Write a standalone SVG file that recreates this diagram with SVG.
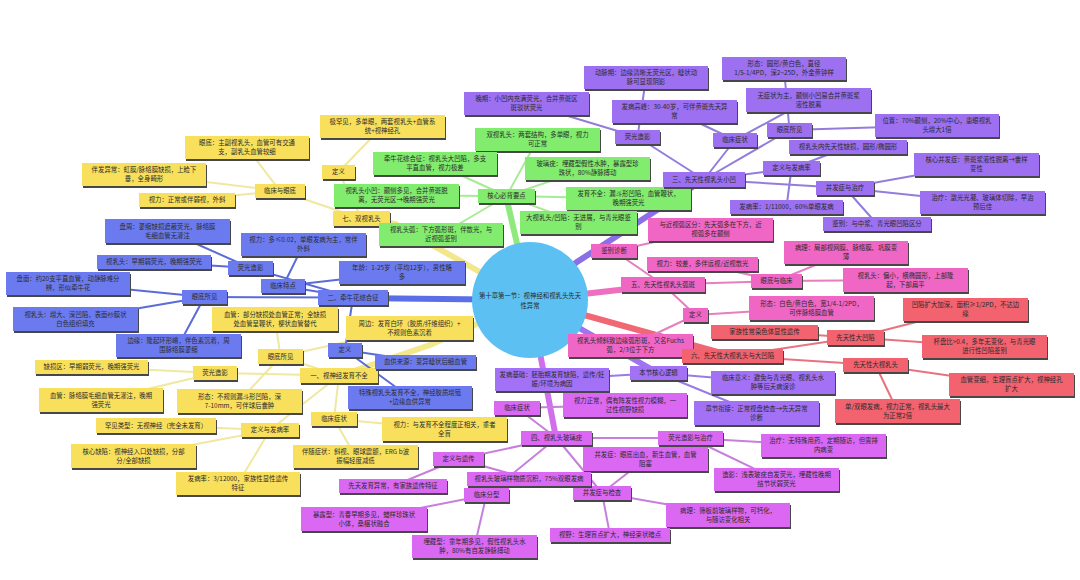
<svg xmlns="http://www.w3.org/2000/svg" width="1080" height="580" viewBox="0 0 1080 580">
<style>
text{font-family:"Noto Sans CJK SC","Noto Sans",sans-serif;font-size:6.4px;fill:#2b2b2b;text-anchor:middle}
.s{fill:#474747}
.y{fill:#f9e05c}.b{fill:#6b7bef}.g{fill:#82ec6e}.p{fill:#9c70f0}.k{fill:#f066c4}.r{fill:#f2626f}.l{fill:#a271f5}.m{fill:#da68f3}
.c line,.c path{fill:none;stroke-linecap:round}
.ty{stroke:#f0e8a0;stroke-width:2}.tb{stroke:#5b6bd8;stroke-width:2}.tg{stroke:#a6ec94;stroke-width:2}.tp{stroke:#937ddc;stroke-width:2}
.tk{stroke:#e57fc0;stroke-width:2}.tr{stroke:#e8737f;stroke-width:2}.tl{stroke:#9a7ae6;stroke-width:2}.tm{stroke:#c77fdc;stroke-width:2}
.My{stroke:#f3e78e;stroke-width:6}.Mb{stroke:#5a6fe6;stroke-width:6}.Mg{stroke:#8eea7c;stroke-width:6}.Mp{stroke:#8b6fe6;stroke-width:6}
.Mk{stroke:#ee6fbf;stroke-width:6}.Mr{stroke:#ef6874;stroke-width:6}.Ml{stroke:#9f74f0;stroke-width:6}.Mm{stroke:#d06eec;stroke-width:6}
</style>
<rect width="1080" height="580" fill="#ffffff"/>
<g id="connectors" class="c">
<path class="My" d="M339 376 L430 345 L530 300"/>
<path class="My" d="M362 219 L395 224 L480 272 L530 300"/>
<path class="Mb" d="M353 298 L530 300"/>
<path class="Mg" d="M506 196 L530 300"/>
<path class="Mp" d="M530 300 L577 262 L700 182"/>
<path class="Mk" d="M530 300 L663 285"/>
<path class="Mr" d="M530 300 L732 356"/>
<path class="Ml" d="M530 300 L658 373"/>
<path class="Mm" d="M530 300 L556 438"/>
<line class="ty" x1="339" y1="375.5" x2="280.5" y2="356.5"/>
<line class="ty" x1="339" y1="375.5" x2="215" y2="373"/>
<line class="ty" x1="339" y1="375.5" x2="270" y2="430"/>
<line class="ty" x1="339" y1="375.5" x2="334" y2="419"/>
<line class="ty" x1="280.5" y1="356.5" x2="275" y2="319"/>
<line class="ty" x1="280.5" y1="356.5" x2="239.5" y2="401"/>
<line class="ty" x1="280.5" y1="356.5" x2="409.5" y2="328"/>
<line class="ty" x1="215" y1="373" x2="91.5" y2="367"/>
<line class="ty" x1="215" y1="373" x2="101" y2="400"/>
<line class="ty" x1="270" y1="430" x2="156" y2="425.5"/>
<line class="ty" x1="270" y1="430" x2="133.5" y2="456"/>
<line class="ty" x1="270" y1="430" x2="238" y2="483.5"/>
<line class="ty" x1="334" y1="419" x2="444.5" y2="429"/>
<line class="ty" x1="334" y1="419" x2="355.5" y2="456.5"/>
<line class="ty" x1="361.5" y1="218.5" x2="338.5" y2="172"/>
<line class="ty" x1="361.5" y1="218.5" x2="280" y2="191"/>
<line class="ty" x1="338.5" y1="172" x2="382.5" y2="126.5"/>
<line class="ty" x1="280" y1="191" x2="247" y2="147.5"/>
<line class="ty" x1="280" y1="191" x2="144" y2="174.5"/>
<line class="ty" x1="280" y1="191" x2="187" y2="200"/>
<line class="tb" x1="353" y1="297.5" x2="283" y2="286"/>
<line class="tb" x1="353" y1="297.5" x2="250.5" y2="268"/>
<line class="tb" x1="353" y1="297.5" x2="204.5" y2="297"/>
<line class="tb" x1="353" y1="297.5" x2="345" y2="350"/>
<line class="tb" x1="283" y1="286" x2="303.5" y2="244.5"/>
<line class="tb" x1="283" y1="286" x2="402" y2="272.5"/>
<line class="tb" x1="250.5" y1="268" x2="167.5" y2="231"/>
<line class="tb" x1="250.5" y1="268" x2="154" y2="262"/>
<line class="tb" x1="204.5" y1="297" x2="68" y2="283.5"/>
<line class="tb" x1="204.5" y1="297" x2="75.5" y2="319"/>
<line class="tb" x1="204.5" y1="297" x2="178.5" y2="345.5"/>
<line class="tb" x1="345" y1="350" x2="425.5" y2="362"/>
<line class="tb" x1="345" y1="350" x2="410" y2="397.5"/>
<line class="tg" x1="506.5" y1="196" x2="537.5" y2="139.5"/>
<line class="tg" x1="506.5" y1="196" x2="435" y2="163.5"/>
<line class="tg" x1="506.5" y1="196" x2="396.5" y2="195.5"/>
<line class="tg" x1="506.5" y1="196" x2="441" y2="234.5"/>
<line class="tg" x1="506.5" y1="196" x2="587.5" y2="168.5"/>
<line class="tg" x1="506.5" y1="196" x2="628.5" y2="198.5"/>
<line class="tg" x1="506.5" y1="196" x2="578.5" y2="222.5"/>
<line class="tp" x1="704" y1="179.5" x2="637.5" y2="137"/>
<line class="tp" x1="704" y1="179.5" x2="735" y2="140"/>
<line class="tp" x1="704" y1="179.5" x2="789.5" y2="130"/>
<line class="tp" x1="704" y1="179.5" x2="791.5" y2="168.5"/>
<line class="tp" x1="704" y1="179.5" x2="845" y2="188"/>
<line class="tp" x1="637.5" y1="137" x2="526.5" y2="103.5"/>
<line class="tp" x1="637.5" y1="137" x2="646" y2="77.5"/>
<line class="tp" x1="735" y1="140" x2="674.5" y2="111.5"/>
<line class="tp" x1="735" y1="140" x2="808.5" y2="100"/>
<line class="tp" x1="789.5" y1="130" x2="784" y2="68.5"/>
<line class="tp" x1="789.5" y1="130" x2="937" y2="125.5"/>
<line class="tp" x1="791.5" y1="168.5" x2="848" y2="147"/>
<line class="tp" x1="791.5" y1="168.5" x2="786.5" y2="207"/>
<line class="tp" x1="845" y1="188" x2="976.5" y2="164.5"/>
<line class="tp" x1="845" y1="188" x2="982.5" y2="202.5"/>
<line class="tp" x1="845" y1="188" x2="877" y2="224"/>
<line class="tk" x1="663" y1="284.5" x2="614" y2="251"/>
<line class="tk" x1="663" y1="284.5" x2="776.5" y2="281"/>
<line class="tk" x1="663" y1="284.5" x2="695.5" y2="315"/>
<line class="tk" x1="614" y1="251" x2="710.5" y2="229.5"/>
<line class="tk" x1="776.5" y1="281" x2="702.5" y2="264"/>
<line class="tk" x1="776.5" y1="281" x2="846" y2="252.5"/>
<line class="tk" x1="776.5" y1="281" x2="905.5" y2="280"/>
<line class="tk" x1="695.5" y1="315" x2="811.5" y2="308"/>
<line class="tk" x1="695.5" y1="315" x2="630.5" y2="345.5"/>
<line class="tr" x1="732.5" y1="356" x2="855.5" y2="337.5"/>
<line class="tr" x1="732.5" y1="356" x2="875.5" y2="365"/>
<line class="tr" x1="855.5" y1="337.5" x2="764.5" y2="332"/>
<line class="tr" x1="855.5" y1="337.5" x2="965.5" y2="309.5"/>
<line class="tr" x1="855.5" y1="337.5" x2="984.5" y2="346.5"/>
<line class="tr" x1="875.5" y1="365" x2="1011.5" y2="384.5"/>
<line class="tr" x1="875.5" y1="365" x2="897.5" y2="411"/>
<line class="tl" x1="658.5" y1="373" x2="552" y2="379.5"/>
<line class="tl" x1="658.5" y1="373" x2="773" y2="382.5"/>
<line class="tl" x1="658.5" y1="373" x2="756.5" y2="413"/>
<line class="tm" x1="556.5" y1="438" x2="517" y2="408"/>
<line class="tm" x1="556.5" y1="438" x2="690.5" y2="438"/>
<line class="tm" x1="556.5" y1="438" x2="602" y2="493"/>
<line class="tm" x1="556.5" y1="438" x2="458.5" y2="459"/>
<line class="tm" x1="556.5" y1="438" x2="486.5" y2="495"/>
<line class="tm" x1="517" y1="408" x2="625" y2="405"/>
<line class="tm" x1="690.5" y1="438" x2="823.5" y2="445.5"/>
<line class="tm" x1="690.5" y1="438" x2="776.5" y2="479.5"/>
<line class="tm" x1="602" y1="493" x2="645.5" y2="459"/>
<line class="tm" x1="602" y1="493" x2="728" y2="515"/>
<line class="tm" x1="602" y1="493" x2="610" y2="535"/>
<line class="tm" x1="458.5" y1="459" x2="393" y2="486"/>
<line class="tm" x1="458.5" y1="459" x2="529" y2="479"/>
<line class="tm" x1="486.5" y1="495" x2="364" y2="519"/>
<line class="tm" x1="486.5" y1="495" x2="474.5" y2="546.5"/>
</g>
<g id="center"><circle cx="530" cy="300" r="58" fill="#5cc1f2"/><text x="530" y="298.3">第十章第一节：视神经和视乳头先天</text><text x="530" y="308.3">性异常</text></g>
<g id="y1"><rect class="s" x="301" y="370" width="78" height="15"/><rect class="y" x="300" y="368" width="78" height="15"/><text x="339" y="377.8">一、视神经发育不全</text></g>
<g id="y2"><rect class="s" x="259" y="351" width="45" height="15"/><rect class="y" x="258" y="349" width="45" height="15"/><text x="280.5" y="358.8">眼底所见</text></g>
<g id="y3"><rect class="s" x="213" y="309" width="126" height="24"/><rect class="y" x="212" y="307" width="126" height="24"/><text x="275" y="316.8">血管：部分缺损处血管正常；全缺损</text><text x="275" y="325.8">处血管呈鞭状，梗状血管替代</text></g>
<g id="y4"><rect class="s" x="178" y="391" width="125" height="24"/><rect class="y" x="177" y="389" width="125" height="24"/><text x="239.5" y="398.8">形态：不规则漏斗形凹陷，深</text><text x="239.5" y="407.8">7-10mm，可伴球后囊肿</text></g>
<g id="y5"><rect class="s" x="194" y="368" width="44" height="14"/><rect class="y" x="193" y="366" width="44" height="14"/><text x="215" y="375.3">荧光造影</text></g>
<g id="y6"><rect class="s" x="36" y="362" width="113" height="14"/><rect class="y" x="35" y="360" width="113" height="14"/><text x="91.5" y="369.3">缺损区：早期弱荧光，晚期强荧光</text></g>
<g id="y7"><rect class="s" x="40" y="390" width="124" height="24"/><rect class="y" x="39" y="388" width="124" height="24"/><text x="101" y="397.8">血管：脉络膜毛细血管无灌注，晚期</text><text x="101" y="406.8">强荧光</text></g>
<g id="y8"><rect class="s" x="242" y="425" width="58" height="14"/><rect class="y" x="241" y="423" width="58" height="14"/><text x="270" y="432.3">定义与发病率</text></g>
<g id="y9"><rect class="s" x="97" y="420" width="120" height="15"/><rect class="y" x="96" y="418" width="120" height="15"/><text x="156" y="427.8">罕见类型：无视神经（完全未发育）</text></g>
<g id="y10"><rect class="s" x="72" y="446" width="125" height="24"/><rect class="y" x="71" y="444" width="125" height="24"/><text x="133.5" y="453.8">核心缺陷：视神经入口处缺损，分部</text><text x="133.5" y="462.8">分/全部缺损</text></g>
<g id="y11"><rect class="s" x="177" y="474" width="124" height="23"/><rect class="y" x="176" y="472" width="124" height="23"/><text x="238" y="481.3">发病率：3/12000，家族性显性遗传</text><text x="238" y="490.3">特征</text></g>
<g id="y12"><rect class="s" x="312" y="414" width="46" height="14"/><rect class="y" x="311" y="412" width="46" height="14"/><text x="334" y="421.3">临床症状</text></g>
<g id="y13"><rect class="s" x="383" y="419" width="125" height="24"/><rect class="y" x="382" y="417" width="125" height="24"/><text x="444.5" y="426.8">视力：与发育不全程度正相关，重者</text><text x="444.5" y="435.8">全盲</text></g>
<g id="y14"><rect class="s" x="294" y="447" width="125" height="23"/><rect class="y" x="293" y="445" width="125" height="23"/><text x="355.5" y="454.3">伴随症状：斜视、眼球震颤，ERG b波</text><text x="355.5" y="463.3">振幅轻度减低</text></g>
<g id="y15"><rect class="s" x="347" y="318" width="127" height="24"/><rect class="y" x="346" y="316" width="127" height="24"/><text x="409.5" y="325.8">周边：发育白环（胶质/纤维组织）+</text><text x="409.5" y="334.8">不规则色素沉着</text></g>
<g id="y16"><rect class="s" x="334" y="213" width="57" height="15"/><rect class="y" x="333" y="211" width="57" height="15"/><text x="361.5" y="220.8">七、双视乳头</text></g>
<g id="y17"><rect class="s" x="323" y="167" width="33" height="14"/><rect class="y" x="322" y="165" width="33" height="14"/><text x="338.5" y="174.3">定义</text></g>
<g id="y18"><rect class="s" x="321" y="117" width="125" height="23"/><rect class="y" x="320" y="115" width="125" height="23"/><text x="382.5" y="124.3">极罕见，多单眼，两套视乳头+血管系</text><text x="382.5" y="133.3">统+视神经孔</text></g>
<g id="y19"><rect class="s" x="256" y="186" width="50" height="14"/><rect class="y" x="255" y="184" width="50" height="14"/><text x="280" y="193.3">临床与眼底</text></g>
<g id="y20"><rect class="s" x="186" y="138" width="124" height="23"/><rect class="y" x="185" y="136" width="124" height="23"/><text x="247" y="145.3">眼底：主副视乳头，血管可有交通</text><text x="247" y="154.3">支，副乳头血管较细</text></g>
<g id="y21"><rect class="s" x="83" y="165" width="124" height="23"/><rect class="y" x="82" y="163" width="124" height="23"/><text x="144" y="172.3">伴发异常：虹膜/脉络膜缺损，上睑下</text><text x="144" y="181.3">垂，全身畸形</text></g>
<g id="y22"><rect class="s" x="140" y="195" width="96" height="14"/><rect class="y" x="139" y="193" width="96" height="14"/><text x="187" y="202.3">视力：正常或伴弱视，外斜</text></g>
<g id="b1"><rect class="s" x="319" y="292" width="70" height="15"/><rect class="b" x="318" y="290" width="70" height="15"/><text x="353" y="299.8">二、牵牛花综合征</text></g>
<g id="b2"><rect class="s" x="262" y="281" width="44" height="14"/><rect class="b" x="261" y="279" width="44" height="14"/><text x="283" y="288.3">临床特点</text></g>
<g id="b3"><rect class="s" x="242" y="235" width="125" height="23"/><rect class="b" x="241" y="233" width="125" height="23"/><text x="303.5" y="242.3">视力：多≤0.02，单眼发病为主，常伴</text><text x="303.5" y="251.3">外斜</text></g>
<g id="b4"><rect class="s" x="340" y="263" width="126" height="23"/><rect class="b" x="339" y="261" width="126" height="23"/><text x="402" y="270.3">年龄：1-25岁（平均12岁），男性略</text><text x="402" y="279.3">多</text></g>
<g id="b5"><rect class="s" x="229" y="263" width="45" height="14"/><rect class="b" x="228" y="261" width="45" height="14"/><text x="250.5" y="270.3">荧光造影</text></g>
<g id="b6"><rect class="s" x="106" y="221" width="125" height="24"/><rect class="b" x="105" y="219" width="125" height="24"/><text x="167.5" y="228.8">盘周：萎缩缺损遮蔽荧光，脉络膜</text><text x="167.5" y="237.8">毛细血管无灌注</text></g>
<g id="b7"><rect class="s" x="98" y="257" width="114" height="14"/><rect class="b" x="97" y="255" width="114" height="14"/><text x="154" y="264.3">视乳头：早期弱荧光，晚期强荧光</text></g>
<g id="b8"><rect class="s" x="183" y="292" width="45" height="14"/><rect class="b" x="182" y="290" width="45" height="14"/><text x="204.5" y="299.3">眼底所见</text></g>
<g id="b9"><rect class="s" x="7" y="274" width="124" height="23"/><rect class="b" x="6" y="272" width="124" height="23"/><text x="68" y="281.3">盘面：约20支平直血管，动静脉难分</text><text x="68" y="290.3">辨，形似牵牛花</text></g>
<g id="b10"><rect class="s" x="14" y="309" width="125" height="24"/><rect class="b" x="13" y="307" width="125" height="24"/><text x="75.5" y="316.8">视乳头：增大、深凹陷，表面纱膜状</text><text x="75.5" y="325.8">白色组织填充</text></g>
<g id="b11"><rect class="s" x="117" y="336" width="125" height="23"/><rect class="b" x="116" y="334" width="125" height="23"/><text x="178.5" y="343.3">边缘：隆起环形嵴，伴色素沉着，周</text><text x="178.5" y="352.3">围脉络膜萎缩</text></g>
<g id="b12"><rect class="s" x="329" y="345" width="34" height="14"/><rect class="b" x="328" y="343" width="34" height="14"/><text x="345" y="352.3">定义</text></g>
<g id="b13"><rect class="s" x="376" y="357" width="101" height="14"/><rect class="b" x="375" y="355" width="101" height="14"/><text x="425.5" y="364.3">血供来源：变异睫状后细血管</text></g>
<g id="b14"><rect class="s" x="349" y="388" width="124" height="23"/><rect class="b" x="348" y="386" width="124" height="23"/><text x="410" y="395.3">特殊视乳头发育不全，神经胶质增殖</text><text x="410" y="404.3">+边缘血供异常</text></g>
<g id="g1"><rect class="s" x="479" y="191" width="57" height="14"/><rect class="g" x="478" y="189" width="57" height="14"/><text x="506.5" y="198.3">核心必背要点</text></g>
<g id="g2"><rect class="s" x="476" y="130" width="125" height="23"/><rect class="g" x="475" y="128" width="125" height="23"/><text x="537.5" y="137.3">双视乳头：两套结构，多单眼，视力</text><text x="537.5" y="146.3">可正常</text></g>
<g id="g3"><rect class="s" x="374" y="154" width="124" height="23"/><rect class="g" x="373" y="152" width="124" height="23"/><text x="435" y="161.3">牵牛花综合征：视乳头大凹陷，多支</text><text x="435" y="170.3">平直血管，视力极差</text></g>
<g id="g4"><rect class="s" x="335" y="186" width="125" height="23"/><rect class="g" x="334" y="184" width="125" height="23"/><text x="396.5" y="193.3">视乳头小凹：颞侧多见，合并黄斑脱</text><text x="396.5" y="202.3">离，无荧光区→晚期强荧光</text></g>
<g id="g5"><rect class="s" x="380" y="225" width="124" height="23"/><rect class="g" x="379" y="223" width="124" height="23"/><text x="441" y="232.3">视乳头弧：下方弧形斑，伴散光，与</text><text x="441" y="241.3">近视弧鉴别</text></g>
<g id="g6"><rect class="s" x="526" y="159" width="125" height="23"/><rect class="g" x="525" y="157" width="125" height="23"/><text x="587.5" y="166.3">玻璃疣：埋藏型假性水肿，暴露型珍</text><text x="587.5" y="175.3">珠状，80%静脉搏动</text></g>
<g id="g7"><rect class="s" x="567" y="189" width="125" height="23"/><rect class="g" x="566" y="187" width="125" height="23"/><text x="628.5" y="196.3">发育不全：漏斗形凹陷，血管鞭状，</text><text x="628.5" y="205.3">晚期强荧光</text></g>
<g id="g8"><rect class="s" x="521" y="213" width="117" height="23"/><rect class="g" x="520" y="211" width="117" height="23"/><text x="578.5" y="220.3">大视乳头/凹陷：无进展，与青光眼鉴</text><text x="578.5" y="229.3">别</text></g>
<g id="p1"><rect class="s" x="664" y="174" width="82" height="15"/><rect class="p" x="663" y="172" width="82" height="15"/><text x="704" y="181.8">三、先天性视乳头小凹</text></g>
<g id="p2"><rect class="s" x="616" y="132" width="45" height="14"/><rect class="p" x="615" y="130" width="45" height="14"/><text x="637.5" y="139.3">荧光造影</text></g>
<g id="p3"><rect class="s" x="465" y="94" width="125" height="23"/><rect class="p" x="464" y="92" width="125" height="23"/><text x="526.5" y="101.3">晚期：小凹内充满荧光，合并黄斑区</text><text x="526.5" y="110.3">斑驳状荧光</text></g>
<g id="p4"><rect class="s" x="585" y="68" width="124" height="23"/><rect class="p" x="584" y="66" width="124" height="23"/><text x="646" y="75.3">动脉期：边缘清晰无荧光区，睫状动</text><text x="646" y="84.3">脉可显现阴影</text></g>
<g id="p5"><rect class="s" x="714" y="135" width="44" height="14"/><rect class="p" x="713" y="133" width="44" height="14"/><text x="735" y="142.3">临床症状</text></g>
<g id="p6"><rect class="s" x="613" y="102" width="125" height="23"/><rect class="p" x="612" y="100" width="125" height="23"/><text x="674.5" y="109.3">发病高峰：30-40岁，可伴黄斑先天异</text><text x="674.5" y="118.3">常</text></g>
<g id="p7"><rect class="s" x="768" y="125" width="45" height="14"/><rect class="p" x="767" y="123" width="45" height="14"/><text x="789.5" y="132.3">眼底所见</text></g>
<g id="p8"><rect class="s" x="723" y="59" width="124" height="23"/><rect class="p" x="722" y="57" width="124" height="23"/><text x="784" y="66.3">形态：圆形/黄白色，直径</text><text x="784" y="75.3">1/5-1/4PD，深2~25D，外金黄钟样</text></g>
<g id="p9"><rect class="s" x="747" y="90" width="125" height="24"/><rect class="p" x="746" y="88" width="125" height="24"/><text x="808.5" y="97.8">无症状为主，颞侧小凹易合并黄斑浆</text><text x="808.5" y="106.8">液性脱离</text></g>
<g id="p10"><rect class="s" x="876" y="116" width="124" height="23"/><rect class="p" x="875" y="114" width="124" height="23"/><text x="937" y="123.3">位置：70%颞侧，20%中心，患眼视乳</text><text x="937" y="132.3">头增大1倍</text></g>
<g id="p11"><rect class="s" x="790" y="142" width="118" height="14"/><rect class="p" x="789" y="140" width="118" height="14"/><text x="848" y="149.3">视乳头内先天性缺损，圆形/椭圆形</text></g>
<g id="p12"><rect class="s" x="764" y="163" width="57" height="14"/><rect class="p" x="763" y="161" width="57" height="14"/><text x="791.5" y="170.3">定义与发病率</text></g>
<g id="p13"><rect class="s" x="817" y="183" width="58" height="14"/><rect class="p" x="816" y="181" width="58" height="14"/><text x="845" y="190.3">并发症与治疗</text></g>
<g id="p14"><rect class="s" x="915" y="155" width="125" height="23"/><rect class="p" x="914" y="153" width="125" height="23"/><text x="976.5" y="162.3">核心并发症：黄斑浆液性脱离→囊样</text><text x="976.5" y="171.3">变性</text></g>
<g id="p15"><rect class="s" x="921" y="193" width="125" height="23"/><rect class="p" x="920" y="191" width="125" height="23"/><text x="982.5" y="200.3">治疗：激光光凝、玻璃体切除，早治</text><text x="982.5" y="209.3">预后佳</text></g>
<g id="p16"><rect class="s" x="824" y="219" width="108" height="14"/><rect class="p" x="823" y="217" width="108" height="14"/><text x="877" y="226.3">鉴别：与中浆、青光眼凹陷区分</text></g>
<g id="p17"><rect class="s" x="731" y="202" width="113" height="14"/><rect class="p" x="730" y="200" width="113" height="14"/><text x="786.5" y="209.3">发病率：1/11000，60%单眼发病</text></g>
<g id="k1"><rect class="s" x="622" y="279" width="84" height="15"/><rect class="k" x="621" y="277" width="84" height="15"/><text x="663" y="286.8">五、先天性视乳头弧斑</text></g>
<g id="k2"><rect class="s" x="592" y="246" width="46" height="14"/><rect class="k" x="591" y="244" width="46" height="14"/><text x="614" y="253.3">鉴别诊断</text></g>
<g id="k3"><rect class="s" x="649" y="220" width="125" height="23"/><rect class="k" x="648" y="218" width="125" height="23"/><text x="710.5" y="227.3">与近视弧区分：先天弧多在下方，近</text><text x="710.5" y="236.3">视弧多在颞侧</text></g>
<g id="k4"><rect class="s" x="752" y="276" width="51" height="14"/><rect class="k" x="751" y="274" width="51" height="14"/><text x="776.5" y="283.3">眼底与临床</text></g>
<g id="k5"><rect class="s" x="648" y="259" width="111" height="14"/><rect class="k" x="647" y="257" width="111" height="14"/><text x="702.5" y="266.3">视力：较差，多伴远视/近视散光</text></g>
<g id="k6"><rect class="s" x="785" y="243" width="124" height="23"/><rect class="k" x="784" y="241" width="124" height="23"/><text x="846" y="250.3">病理：局部视网膜、脉络膜、巩膜变</text><text x="846" y="259.3">薄</text></g>
<g id="k7"><rect class="s" x="844" y="270" width="125" height="24"/><rect class="k" x="843" y="268" width="125" height="24"/><text x="905.5" y="277.8">视乳头：偏小，横椭圆形，上部隆</text><text x="905.5" y="286.8">起，下部扁平</text></g>
<g id="k8"><rect class="s" x="684" y="310" width="25" height="14"/><rect class="k" x="683" y="308" width="25" height="14"/><text x="695.5" y="317.3">定义</text></g>
<g id="k9"><rect class="s" x="750" y="298" width="125" height="24"/><rect class="k" x="749" y="296" width="125" height="24"/><text x="811.5" y="305.8">形态：白色/黄白色，宽1/4-1/2PD，</text><text x="811.5" y="314.8">可伴脉络膜血管</text></g>
<g id="k10"><rect class="s" x="569" y="336" width="125" height="23"/><rect class="k" x="568" y="334" width="125" height="23"/><text x="630.5" y="343.3">视乳头倾斜致边缘弧形斑，又名Fuchs</text><text x="630.5" y="352.3">弧，2/3位于下方</text></g>
<g id="r1"><rect class="s" x="683" y="351" width="101" height="14"/><rect class="r" x="682" y="349" width="101" height="14"/><text x="732.5" y="358.3">六、先天性大视乳头与大凹陷</text></g>
<g id="r2"><rect class="s" x="712" y="327" width="107" height="14"/><rect class="r" x="711" y="325" width="107" height="14"/><text x="764.5" y="334.3">家族性常染色体显性遗传</text></g>
<g id="r3"><rect class="s" x="828" y="332" width="57" height="15"/><rect class="r" x="827" y="330" width="57" height="15"/><text x="855.5" y="339.8">先天性大凹陷</text></g>
<g id="r4"><rect class="s" x="904" y="300" width="125" height="23"/><rect class="r" x="903" y="298" width="125" height="23"/><text x="965.5" y="307.3">凹陷扩大加深，面积≥1/2PD，不达边</text><text x="965.5" y="316.3">缘</text></g>
<g id="r5"><rect class="s" x="923" y="337" width="125" height="23"/><rect class="r" x="922" y="335" width="125" height="23"/><text x="984.5" y="344.3">杯盘比&gt;0.4，多年无变化，与青光眼</text><text x="984.5" y="353.3">进行性凹陷鉴别</text></g>
<g id="r6"><rect class="s" x="844" y="360" width="65" height="14"/><rect class="r" x="843" y="358" width="65" height="14"/><text x="875.5" y="367.3">先天性大视乳头</text></g>
<g id="r7"><rect class="s" x="950" y="375" width="125" height="23"/><rect class="r" x="949" y="373" width="125" height="23"/><text x="1011.5" y="382.3">血管变细，生理盲点扩大，视神经孔</text><text x="1011.5" y="391.3">扩大</text></g>
<g id="r8"><rect class="s" x="836" y="401" width="125" height="24"/><rect class="r" x="835" y="399" width="125" height="24"/><text x="897.5" y="408.8">单/双眼发病，视力正常，视乳头最大</text><text x="897.5" y="417.8">为正常2倍</text></g>
<g id="l1"><rect class="s" x="631" y="368" width="57" height="14"/><rect class="l" x="630" y="366" width="57" height="14"/><text x="658.5" y="375.3">本节核心逻辑</text></g>
<g id="l2"><rect class="s" x="496" y="370" width="114" height="23"/><rect class="l" x="495" y="368" width="114" height="23"/><text x="552" y="377.3">发病基础：胚胎期发育缺陷，遗传/妊</text><text x="552" y="386.3">娠/环境为病因</text></g>
<g id="l3"><rect class="s" x="712" y="373" width="124" height="23"/><rect class="l" x="711" y="371" width="124" height="23"/><text x="773" y="380.3">临床意义：避免与青光眼、视乳头水</text><text x="773" y="389.3">肿等后天病误诊</text></g>
<g id="l4"><rect class="s" x="695" y="403" width="125" height="24"/><rect class="l" x="694" y="401" width="125" height="24"/><text x="756.5" y="410.8">章节衔接：正常视盘检查→先天异常</text><text x="756.5" y="419.8">诊断</text></g>
<g id="m1"><rect class="s" x="522" y="433" width="71" height="14"/><rect class="m" x="521" y="431" width="71" height="14"/><text x="556.5" y="440.3">四、视乳头玻璃疣</text></g>
<g id="m2"><rect class="s" x="495" y="403" width="46" height="14"/><rect class="m" x="494" y="401" width="46" height="14"/><text x="517" y="410.3">临床症状</text></g>
<g id="m3"><rect class="s" x="564" y="395" width="124" height="24"/><rect class="m" x="563" y="393" width="124" height="24"/><text x="625" y="402.8">视力正常，偶有阵发性视力模糊，一</text><text x="625" y="411.8">过性视野缺损</text></g>
<g id="m4"><rect class="s" x="659" y="433" width="65" height="14"/><rect class="m" x="658" y="431" width="65" height="14"/><text x="690.5" y="440.3">荧光造影与治疗</text></g>
<g id="m5"><rect class="s" x="762" y="436" width="125" height="23"/><rect class="m" x="761" y="434" width="125" height="23"/><text x="823.5" y="443.3">治疗：无特殊用药，定期随访，但需排</text><text x="823.5" y="452.3">内病变</text></g>
<g id="m6"><rect class="s" x="715" y="470" width="125" height="23"/><rect class="m" x="714" y="468" width="125" height="23"/><text x="776.5" y="477.3">造影：浅表玻疣自发荧光，埋藏性晚期</text><text x="776.5" y="486.3">结节状弱荧光</text></g>
<g id="m7"><rect class="s" x="584" y="449" width="125" height="24"/><rect class="m" x="583" y="447" width="125" height="24"/><text x="645.5" y="456.8">并发症：眼底出血，新生血管，血管</text><text x="645.5" y="465.8">阻塞</text></g>
<g id="m8"><rect class="s" x="574" y="488" width="58" height="14"/><rect class="m" x="573" y="486" width="58" height="14"/><text x="602" y="495.3">并发症与检查</text></g>
<g id="m9"><rect class="s" x="667" y="505" width="124" height="24"/><rect class="m" x="666" y="503" width="124" height="24"/><text x="728" y="512.8">病理：筛板前玻璃样物，可钙化，</text><text x="728" y="521.8">与随访变化相关</text></g>
<g id="m10"><rect class="s" x="551" y="530" width="120" height="14"/><rect class="m" x="550" y="528" width="120" height="14"/><text x="610" y="537.3">视野：生理盲点扩大，神经束状暗点</text></g>
<g id="m11"><rect class="s" x="434" y="454" width="51" height="14"/><rect class="m" x="433" y="452" width="51" height="14"/><text x="458.5" y="461.3">定义与遗传</text></g>
<g id="m12"><rect class="s" x="340" y="481" width="108" height="14"/><rect class="m" x="339" y="479" width="108" height="14"/><text x="393" y="488.3">先天发育异常，有家族遗传特征</text></g>
<g id="m13"><rect class="s" x="468" y="474" width="124" height="14"/><rect class="m" x="467" y="472" width="124" height="14"/><text x="529" y="481.3">视乳头玻璃样物质沉积，75%双眼发病</text></g>
<g id="m14"><rect class="s" x="465" y="490" width="45" height="14"/><rect class="m" x="464" y="488" width="45" height="14"/><text x="486.5" y="497.3">临床分型</text></g>
<g id="m15"><rect class="s" x="302" y="509" width="126" height="24"/><rect class="m" x="301" y="507" width="126" height="24"/><text x="364" y="516.8">暴露型：青春早期多见，蜡样珍珠状</text><text x="364" y="525.8">小体，桑椹状融合</text></g>
<g id="m16"><rect class="s" x="413" y="537" width="125" height="23"/><rect class="m" x="412" y="535" width="125" height="23"/><text x="474.5" y="544.3">埋藏型：童年期多见，假性视乳头水</text><text x="474.5" y="553.3">肿，80%有自发静脉搏动</text></g>
</svg>
